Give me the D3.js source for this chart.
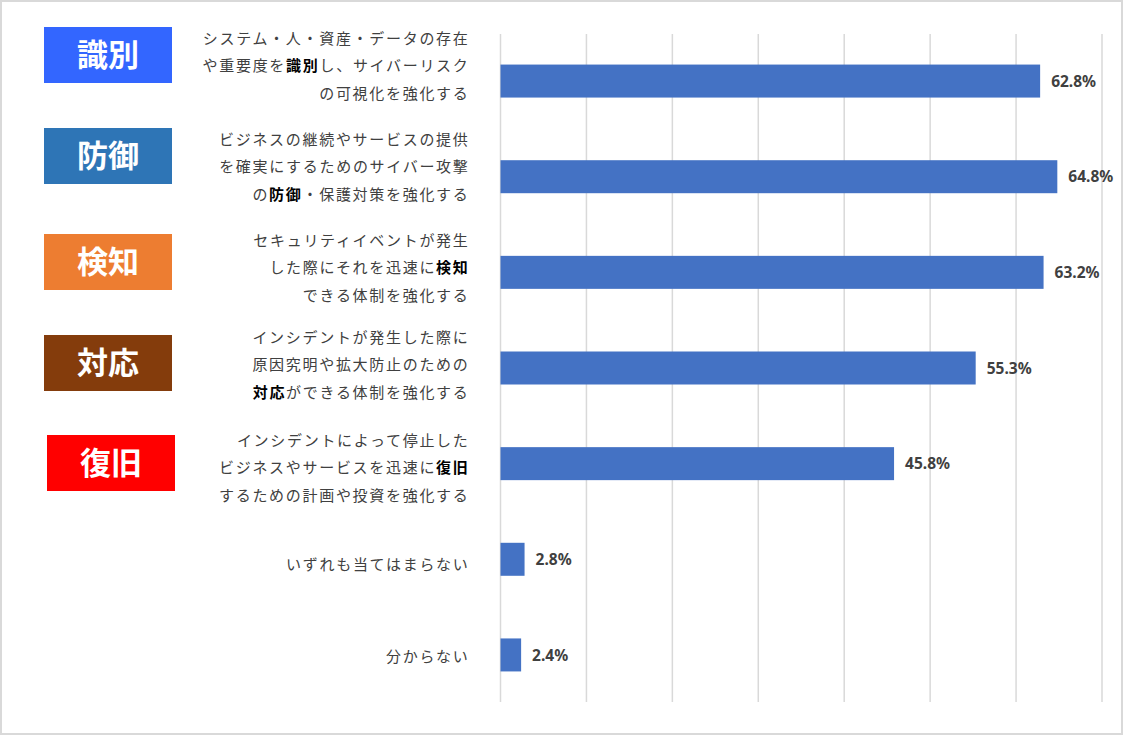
<!DOCTYPE html>
<html><head><meta charset="utf-8">
<script src="https://cdn.jsdelivr.net/npm/d3@7"></script>
<style>body{margin:0;background:#fff}svg{display:block}</style>
</head><body>
<svg id="c" width="1124" height="736"></svg>
<script>
// ---- data ----
const categories = ["識別","防御","検知","対応","復旧","いずれも当てはまらない","分からない"];
const values = [62.8, 64.8, 63.2, 55.3, 45.8, 2.8, 2.4];
const badgeLabels = ["識別","防御","検知","対応","復旧"];
const badgeColors = ["#3366FF","#2E75B6","#ED7D31","#843C0C","#FF0000"];
// description lines; segments in [] are bold
const descLines = [
  ["システム・人・資産・データの存在","や重要度を[識別]し、サイバーリスク","の可視化を強化する"],
  ["ビジネスの継続やサービスの提供","を確実にするためのサイバー攻撃","の[防御]・保護対策を強化する"],
  ["セキュリティイベントが発生","した際にそれを迅速に[検知]","できる体制を強化する"],
  ["インシデントが発生した際に","原因究明や拡大防止のための","[対応]ができる体制を強化する"],
  ["インシデントによって停止した","ビジネスやサービスを迅速に[復旧]","するための計画や投資を強化する"],
  ["いずれも当てはまらない"],
  ["分からない"]
];
const xTicks = [0,10,20,30,40,50,60,70];

// ---- layout ----
const svg = d3.select("#c");
svg.append("rect").attr("x",1).attr("y",1).attr("width",1121).attr("height",733)
  .attr("fill","#fff").attr("stroke","#d9d9d9").attr("stroke-width",2);

const x = d3.scaleLinear().domain([0,70]).range([500.5,1102]);
const y = d3.scaleBand().domain(categories).range([33,703]).paddingInner(0.655).paddingOuter(0.33);

// gridlines
svg.append("g").selectAll("line").data(xTicks).join("line")
  .attr("x1",d=>x(d)).attr("x2",d=>x(d)).attr("y1",34).attr("y2",702)
  .attr("stroke","#d9d9d9").attr("stroke-width",1.5);

// bars
svg.append("g").selectAll("rect").data(values).join("rect")
  .attr("x",x(0)).attr("y",(d,i)=>y(categories[i]))
  .attr("width",d=>x(d)-x(0)).attr("height",y.bandwidth())
  .attr("fill","#4472C4");

// value labels
svg.append("g").selectAll("text").data(values).join("text")
  .attr("x",d=>x(d)+11).attr("y",(d,i)=>y(categories[i])+y.bandwidth()/2)
  .attr("dy","0.36em")
  .attr("font-family","'Noto Sans','Liberation Sans',sans-serif")
  .attr("font-weight","bold").attr("font-size",15.5).attr("fill","#404040")
  .text(d=>d.toFixed(1)+"%");

// badges (layout: centre y per badge)
const badgeCY = [55,156,262,363,463];
const badgeX = [44,44,44,44,47];
const bg = svg.append("g").selectAll("g").data(badgeLabels).join("g")
  .attr("transform",(d,i)=>`translate(${badgeX[i]},${badgeCY[i]-28})`);
bg.append("rect").attr("width",128).attr("height",56).attr("fill",(d,i)=>badgeColors[i]);
bg.append("text").attr("x",64).attr("y",28).attr("dy","0.36em").attr("text-anchor","middle")
  .attr("font-family","'Noto Sans CJK JP',sans-serif").attr("font-weight","bold")
  .attr("font-size",31).attr("fill","#fff").text(d=>d);

// descriptions
const descCY = [66,167,268,365,468];
const lineH = 27.2;
const tg = svg.append("g").attr("font-family","'Noto Sans CJK JP',sans-serif")
  .attr("font-size",15).attr("fill","#404040").attr("letter-spacing","1.7px");
descLines.forEach((lines,i)=>{
  let cy = i<5 ? descCY[i] : y(categories[i])+y.bandwidth()/2+(i===5?5:2);
  lines.forEach((ln,j)=>{
    const t = tg.append("text").attr("x",469.5).attr("text-anchor","end")
      .attr("y",cy+(j-(lines.length-1)/2)*lineH).attr("dy","0.36em");
    ln.split(/(\[[^\]]+\])/).filter(s=>s.length).forEach(seg=>{
      if(seg[0]==="["){
        t.append("tspan").attr("font-weight","bold").attr("fill","#000").text(seg.slice(1,-1));
      } else t.append("tspan").text(seg);
    });
  });
});
</script>
</body></html>
